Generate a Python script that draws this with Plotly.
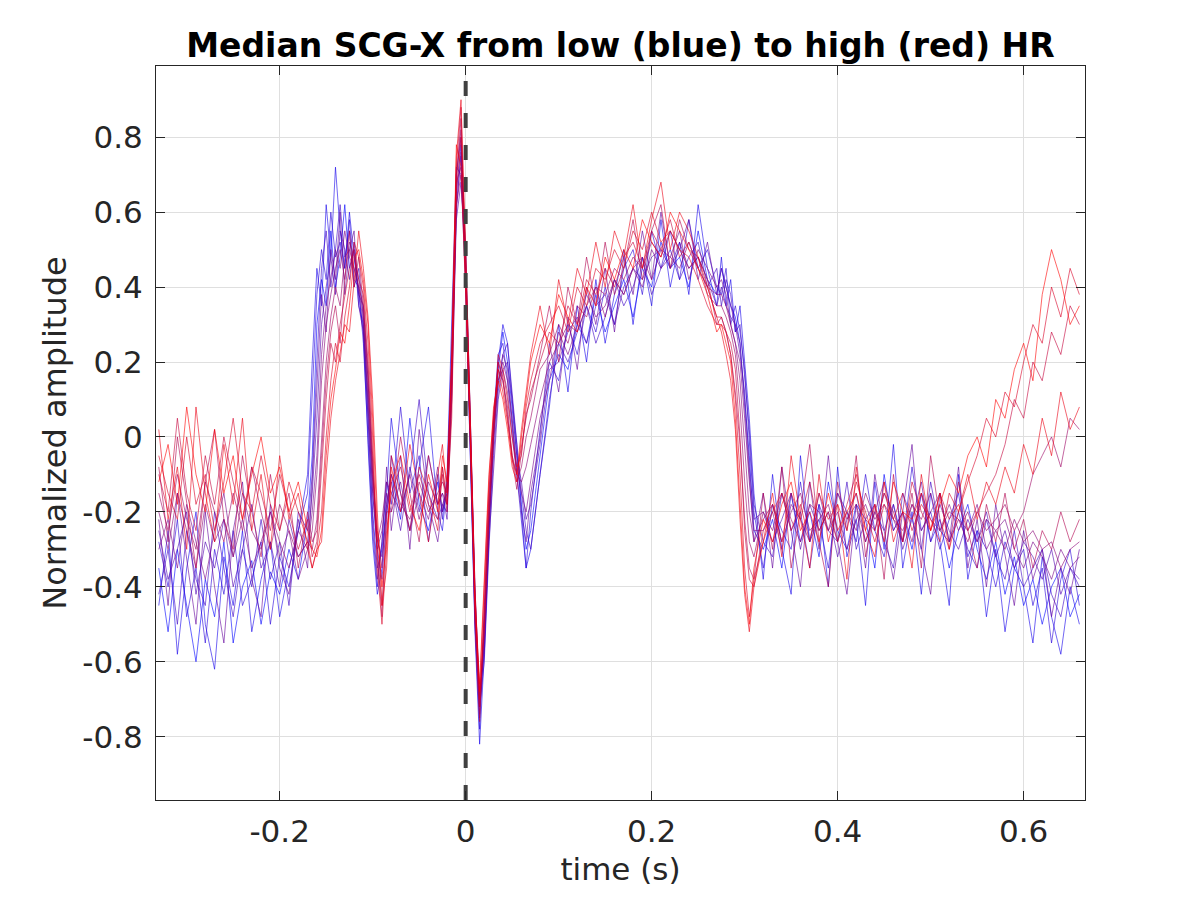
import plotly.graph_objects as go

# time grid (s)
time_s = (
    [-0.33, -0.32, -0.31, -0.30, -0.29, -0.28, -0.27, -0.26, -0.25, -0.24, -0.23, -0.22, -0.21, -0.20, -0.19, -0.18, -0.17]
    + [-0.165, -0.16, -0.155, -0.15, -0.145, -0.14, -0.135, -0.13, -0.125, -0.12, -0.115, -0.11, -0.105, -0.10, -0.095, -0.09, -0.085]
    + [-0.08, -0.07, -0.06, -0.05, -0.04, -0.03]
    + [-0.025, -0.02, -0.015, -0.01, -0.005, 0.0, 0.005, 0.01, 0.015, 0.02, 0.025, 0.03, 0.035, 0.04, 0.045, 0.05, 0.055, 0.06, 0.065, 0.07]
    + [0.08, 0.09, 0.10, 0.11, 0.12, 0.13, 0.14, 0.15, 0.16, 0.17, 0.18, 0.19, 0.20, 0.21, 0.22, 0.23, 0.24, 0.25, 0.26, 0.27]
    + [0.275, 0.28, 0.285, 0.29, 0.295, 0.30, 0.305, 0.31]
    + [0.32, 0.33, 0.34, 0.35, 0.36, 0.37, 0.38, 0.39, 0.40, 0.41, 0.42, 0.43, 0.44, 0.45, 0.46, 0.47, 0.48, 0.49, 0.50,
       0.51, 0.52, 0.53, 0.54, 0.55, 0.56, 0.57, 0.58, 0.59, 0.60, 0.61, 0.62, 0.63, 0.64, 0.65, 0.66]
)

# median SCG-X beats, ordered from low HR (blue) to high HR (red)
hr00 = ([-0.35, -0.52, -0.30, -0.45, -0.60, -0.38, -0.48, -0.28, -0.55, -0.40, -0.33, -0.50, -0.36, -0.42, -0.30, -0.38, -0.22]
        + [-0.05, 0.30, 0.42, 0.35, 0.55, 0.40, 0.48, 0.62, 0.45, 0.50, 0.35, 0.30, 0.05, -0.20, -0.35, -0.30, -0.18]
        + [-0.10, -0.22, 0.05, -0.18, -0.25, -0.12]
        + [-0.20, -0.15, 0.20, 0.65, 0.78, 0.45, 0.00, -0.45, -0.70, -0.55, -0.25, 0.00, 0.18, 0.28, 0.20, 0.08, -0.05, -0.18, -0.30, -0.25]
        + [-0.05, 0.15, 0.22, 0.18, 0.30, 0.25, 0.38, 0.28, 0.35, 0.42, 0.32, 0.45, 0.40, 0.52, 0.45, 0.48, 0.40, 0.55, 0.42, 0.38]
        + [0.45, 0.40, 0.35, 0.32, 0.25, 0.10, -0.05, -0.25]
        + [-0.30, -0.22, -0.35, -0.15, -0.28, -0.20, -0.32, -0.12, -0.25, -0.30, -0.18, -0.22, -0.35, -0.10, -0.25, -0.20, -0.30, -0.15,
           -0.28, -0.22, -0.35, -0.25, -0.18, -0.30, -0.38, -0.28, -0.42, -0.32, -0.45, -0.38, -0.50, -0.40, -0.35, -0.48, -0.42])
hr01 = ([-0.45, -0.25, -0.58, -0.35, -0.20, -0.50, -0.62, -0.32, -0.45, -0.25, -0.52, -0.38, -0.28, -0.48, -0.35, -0.25, -0.10]
        + [0.20, 0.45, 0.35, 0.62, 0.48, 0.72, 0.55, 0.45, 0.60, 0.48, 0.38, 0.28, -0.02, -0.28, -0.42, -0.35, -0.15]
        + [0.05, -0.15, -0.25, -0.08, 0.08, -0.20]
        + [-0.25, -0.12, 0.25, 0.70, 0.80, 0.42, -0.02, -0.52, -0.82, -0.58, -0.25, 0.02, 0.20, 0.30, 0.25, 0.10, -0.02, -0.20, -0.35, -0.30]
        + [-0.10, 0.08, 0.30, 0.12, 0.35, 0.20, 0.42, 0.25, 0.38, 0.50, 0.30, 0.48, 0.35, 0.58, 0.40, 0.52, 0.38, 0.62, 0.45, 0.35]
        + [0.48, 0.35, 0.42, 0.28, 0.35, 0.20, 0.05, -0.15]
        + [-0.38, -0.10, -0.30, -0.42, -0.05, -0.28, -0.18, -0.40, -0.08, -0.32, -0.22, -0.45, -0.12, -0.30, -0.02, -0.35, -0.20, -0.42,
           -0.15, -0.28, -0.45, -0.10, -0.38, -0.25, -0.48, -0.30, -0.52, -0.35, -0.40, -0.55, -0.32, -0.48, -0.58, -0.40, -0.50])
hr02 = ([-0.28, -0.40, -0.22, -0.48, -0.35, -0.55, -0.30, -0.42, -0.25, -0.45, -0.38, -0.28, -0.50, -0.32, -0.40, -0.25, -0.15]
        + [0.10, 0.38, 0.50, 0.42, 0.60, 0.48, 0.52, 0.45, 0.58, 0.42, 0.40, 0.25, 0.00, -0.25, -0.40, -0.28, -0.12]
        + [-0.18, 0.08, -0.15, -0.05, -0.28, -0.10]
        + [-0.22, -0.10, 0.28, 0.72, 0.70, 0.40, -0.05, -0.50, -0.78, -0.50, -0.20, 0.05, 0.22, 0.25, 0.15, 0.02, -0.10, -0.22, -0.35, -0.20]
        + [0.02, 0.20, 0.15, 0.30, 0.22, 0.35, 0.28, 0.40, 0.30, 0.45, 0.50, 0.38, 0.55, 0.45, 0.50, 0.42, 0.58, 0.45, 0.50, 0.40]
        + [0.38, 0.45, 0.30, 0.35, 0.28, 0.18, 0.00, -0.20]
        + [-0.35, -0.18, -0.25, -0.30, -0.12, -0.28, -0.22, -0.35, -0.15, -0.20, -0.28, -0.10, -0.25, -0.32, -0.18, -0.28, -0.08, -0.25,
           -0.20, -0.30, -0.22, -0.15, -0.32, -0.25, -0.30, -0.40, -0.28, -0.35, -0.30, -0.45, -0.35, -0.55, -0.38, -0.30, -0.45])
hr03 = ([-0.42, -0.30, -0.50, -0.25, -0.38, -0.45, -0.20, -0.35, -0.48, -0.30, -0.40, -0.22, -0.38, -0.28, -0.45, -0.20, -0.25]
        + [-0.10, 0.20, 0.45, 0.55, 0.40, 0.50, 0.62, 0.48, 0.55, 0.40, 0.45, 0.32, 0.10, -0.15, -0.30, -0.38, -0.22]
        + [-0.05, -0.20, -0.10, 0.10, -0.15, -0.22]
        + [-0.18, -0.20, 0.15, 0.62, 0.75, 0.50, 0.05, -0.40, -0.72, -0.60, -0.30, -0.05, 0.12, 0.22, 0.25, 0.12, -0.02, -0.15, -0.25, -0.30]
        + [-0.10, 0.10, 0.25, 0.20, 0.28, 0.35, 0.25, 0.32, 0.42, 0.35, 0.40, 0.48, 0.38, 0.45, 0.55, 0.42, 0.48, 0.52, 0.40, 0.45]
        + [0.35, 0.42, 0.38, 0.28, 0.30, 0.15, 0.02, -0.18]
        + [-0.28, -0.32, -0.15, -0.25, -0.20, -0.35, -0.18, -0.25, -0.28, -0.12, -0.30, -0.22, -0.18, -0.28, -0.35, -0.15, -0.22, -0.30,
           -0.12, -0.25, -0.28, -0.20, -0.30, -0.35, -0.22, -0.32, -0.38, -0.25, -0.40, -0.35, -0.30, -0.42, -0.48, -0.35, -0.40])
hr04 = ([-0.25, -0.38, -0.30, -0.20, -0.42, -0.28, -0.35, -0.22, -0.40, -0.30, -0.18, -0.35, -0.28, -0.40, -0.22, -0.32, -0.28]
        + [-0.15, 0.05, 0.30, 0.40, 0.48, 0.38, 0.55, 0.50, 0.42, 0.52, 0.38, 0.35, 0.15, -0.10, -0.28, -0.32, -0.20]
        + [-0.12, -0.25, -0.08, -0.20, -0.05, -0.18]
        + [-0.15, -0.22, 0.10, 0.58, 0.68, 0.48, 0.02, -0.42, -0.68, -0.58, -0.28, -0.08, 0.10, 0.18, 0.20, 0.10, -0.05, -0.12, -0.22, -0.18]
        + [-0.02, 0.18, 0.20, 0.28, 0.32, 0.25, 0.35, 0.38, 0.30, 0.40, 0.45, 0.42, 0.48, 0.50, 0.45, 0.52, 0.45, 0.48, 0.42, 0.35]
        + [0.40, 0.35, 0.32, 0.30, 0.22, 0.12, -0.08, -0.22]
        + [-0.20, -0.28, -0.22, -0.15, -0.30, -0.18, -0.25, -0.20, -0.32, -0.22, -0.15, -0.28, -0.20, -0.25, -0.18, -0.30, -0.22, -0.12,
           -0.28, -0.18, -0.25, -0.30, -0.22, -0.28, -0.20, -0.32, -0.25, -0.35, -0.28, -0.32, -0.38, -0.30, -0.42, -0.35, -0.38])
hr05 = ([-0.22, -0.45, -0.15, -0.32, -0.50, -0.20, -0.40, -0.55, -0.25, -0.12, -0.38, -0.48, -0.18, -0.35, -0.42, -0.22, -0.35]
        + [-0.12, 0.12, 0.38, 0.28, 0.50, 0.42, 0.60, 0.38, 0.50, 0.55, 0.35, 0.28, 0.05, -0.22, -0.38, -0.28, -0.08]
        + [-0.25, -0.05, -0.30, 0.02, -0.18, -0.28]
        + [-0.18, -0.15, 0.18, 0.60, 0.76, 0.48, 0.02, -0.44, -0.74, -0.55, -0.25, -0.02, 0.15, 0.22, 0.18, 0.05, -0.10, -0.20, -0.28, -0.15]
        + [0.00, 0.25, 0.12, 0.32, 0.18, 0.40, 0.30, 0.45, 0.28, 0.48, 0.38, 0.55, 0.42, 0.60, 0.45, 0.50, 0.58, 0.42, 0.52, 0.38]
        + [0.45, 0.40, 0.35, 0.30, 0.25, 0.08, -0.10, -0.28]
        + [-0.15, -0.35, -0.08, -0.25, -0.40, -0.12, -0.30, -0.05, -0.28, -0.42, -0.18, -0.35, -0.10, -0.25, -0.38, -0.20, -0.02, -0.30,
           -0.42, -0.15, -0.28, -0.08, -0.35, -0.22, -0.40, -0.18, -0.32, -0.45, -0.25, -0.38, -0.30, -0.48, -0.35, -0.42, -0.30])
hr06 = ([-0.30, -0.22, -0.35, -0.18, -0.28, -0.38, -0.25, -0.15, -0.32, -0.22, -0.35, -0.28, -0.20, -0.32, -0.25, -0.38, -0.30]
        + [-0.20, -0.05, 0.22, 0.35, 0.42, 0.50, 0.45, 0.55, 0.48, 0.45, 0.40, 0.30, 0.10, -0.15, -0.30, -0.25, -0.15]
        + [-0.20, -0.12, -0.25, -0.15, -0.22, -0.08]
        + [-0.20, -0.12, 0.20, 0.68, 0.72, 0.42, 0.00, -0.48, -0.72, -0.52, -0.22, 0.00, 0.15, 0.20, 0.15, 0.05, -0.08, -0.15, -0.20, -0.12]
        + [0.05, 0.15, 0.28, 0.22, 0.30, 0.38, 0.32, 0.35, 0.42, 0.38, 0.45, 0.40, 0.50, 0.45, 0.48, 0.55, 0.42, 0.50, 0.45, 0.40]
        + [0.42, 0.38, 0.30, 0.25, 0.20, 0.05, -0.12, -0.25]
        + [-0.25, -0.20, -0.30, -0.18, -0.22, -0.28, -0.15, -0.25, -0.20, -0.30, -0.22, -0.18, -0.25, -0.15, -0.22, -0.28, -0.18, -0.25,
           -0.20, -0.15, -0.28, -0.22, -0.25, -0.18, -0.30, -0.25, -0.22, -0.30, -0.35, -0.28, -0.32, -0.38, -0.30, -0.35, -0.32])
hr07 = ([-0.20, -0.30, -0.15, -0.25, -0.35, -0.18, -0.28, -0.22, -0.32, -0.15, -0.25, -0.30, -0.20, -0.28, -0.35, -0.25, -0.30]
        + [-0.25, -0.10, 0.15, 0.30, 0.38, 0.45, 0.50, 0.42, 0.52, 0.48, 0.42, 0.32, 0.12, -0.12, -0.28, -0.22, -0.12]
        + [-0.15, -0.20, -0.10, -0.22, -0.12, -0.18]
        + [-0.15, -0.18, 0.12, 0.62, 0.70, 0.45, 0.05, -0.45, -0.70, -0.50, -0.20, 0.02, 0.15, 0.18, 0.12, 0.00, -0.10, -0.12, -0.08, -0.02]
        + [0.10, 0.20, 0.25, 0.30, 0.28, 0.35, 0.40, 0.32, 0.42, 0.38, 0.45, 0.48, 0.42, 0.50, 0.48, 0.45, 0.52, 0.45, 0.40, 0.38]
        + [0.38, 0.35, 0.30, 0.25, 0.15, -0.02, -0.20, -0.28]
        + [-0.22, -0.18, -0.28, -0.20, -0.15, -0.25, -0.22, -0.18, -0.28, -0.20, -0.25, -0.15, -0.22, -0.18, -0.25, -0.20, -0.28, -0.15,
           -0.22, -0.25, -0.18, -0.25, -0.20, -0.28, -0.22, -0.25, -0.30, -0.22, -0.28, -0.25, -0.30, -0.28, -0.35, -0.30, -0.28])
hr08 = ([-0.15, -0.25, -0.10, -0.22, -0.30, -0.12, -0.20, -0.28, -0.15, -0.25, -0.08, -0.20, -0.30, -0.18, -0.25, -0.32, -0.28]
        + [-0.30, -0.22, 0.00, 0.20, 0.32, 0.40, 0.35, 0.48, 0.50, 0.45, 0.40, 0.35, 0.15, -0.10, -0.25, -0.35, -0.18]
        + [-0.10, -0.18, -0.22, -0.12, -0.20, -0.15]
        + [-0.12, -0.15, 0.18, 0.70, 0.82, 0.40, 0.00, -0.50, -0.75, -0.45, -0.15, 0.05, 0.18, 0.15, 0.08, -0.05, -0.12, -0.08, 0.00, 0.05]
        + [0.18, 0.22, 0.30, 0.25, 0.35, 0.32, 0.40, 0.38, 0.45, 0.42, 0.48, 0.45, 0.52, 0.48, 0.55, 0.50, 0.45, 0.48, 0.38, 0.35]
        + [0.35, 0.32, 0.28, 0.22, 0.08, -0.12, -0.28, -0.32]
        + [-0.20, -0.25, -0.15, -0.22, -0.28, -0.18, -0.20, -0.25, -0.15, -0.22, -0.18, -0.28, -0.20, -0.12, -0.22, -0.25, -0.18, -0.22,
           -0.15, -0.25, -0.20, -0.22, -0.28, -0.20, -0.25, -0.22, -0.18, -0.25, -0.20, -0.10, -0.05, 0.00, -0.08, 0.05, 0.02])
hr09 = ([-0.08, -0.28, 0.00, -0.18, -0.35, -0.12, 0.02, -0.22, -0.30, -0.05, -0.20, -0.32, -0.10, -0.25, -0.15, -0.35, -0.20]
        + [-0.28, -0.25, -0.05, 0.15, 0.28, 0.35, 0.25, 0.42, 0.55, 0.40, 0.48, 0.35, 0.18, -0.08, -0.32, -0.48, -0.20]
        + [-0.20, 0.00, -0.15, -0.28, -0.05, -0.18]
        + [-0.08, -0.18, 0.15, 0.68, 0.85, 0.45, 0.00, -0.48, -0.76, -0.46, -0.16, 0.04, 0.20, 0.16, 0.06, -0.06, -0.14, -0.04, 0.06, 0.10]
        + [0.22, 0.35, 0.20, 0.40, 0.30, 0.48, 0.35, 0.52, 0.38, 0.45, 0.58, 0.42, 0.55, 0.62, 0.45, 0.58, 0.50, 0.48, 0.42, 0.30]
        + [0.32, 0.28, 0.22, 0.12, -0.02, -0.22, -0.35, -0.38]
        + [-0.15, -0.30, -0.08, -0.35, -0.20, -0.02, -0.28, -0.40, -0.12, -0.25, -0.05, -0.32, -0.18, -0.38, -0.10, -0.28, -0.15, -0.35,
           -0.05, -0.22, -0.30, -0.12, -0.25, -0.35, -0.18, -0.28, -0.15, -0.30, -0.22, -0.35, -0.25, -0.30, -0.20, -0.28, -0.22])
hr10 = ([-0.10, -0.20, 0.05, -0.15, -0.25, -0.05, -0.18, 0.00, -0.12, -0.22, -0.08, -0.15, -0.25, -0.10, -0.20, -0.30, -0.22]
        + [-0.32, -0.28, -0.10, 0.10, 0.25, 0.20, 0.30, 0.38, 0.45, 0.50, 0.42, 0.38, 0.20, -0.05, -0.30, -0.45, -0.25]
        + [-0.15, -0.08, -0.20, -0.10, -0.18, -0.22]
        + [-0.10, -0.20, 0.10, 0.72, 0.88, 0.48, 0.02, -0.42, -0.72, -0.48, -0.18, 0.02, 0.20, 0.15, 0.05, -0.05, -0.10, -0.02, 0.05, 0.12]
        + [0.20, 0.28, 0.25, 0.35, 0.30, 0.42, 0.38, 0.45, 0.40, 0.48, 0.52, 0.45, 0.55, 0.50, 0.58, 0.48, 0.52, 0.45, 0.40, 0.32]
        + [0.32, 0.28, 0.25, 0.18, 0.00, -0.25, -0.38, -0.40]
        + [-0.25, -0.18, -0.28, -0.15, -0.22, -0.12, -0.25, -0.20, -0.28, -0.18, -0.10, -0.22, -0.25, -0.15, -0.20, -0.28, -0.12, -0.20,
           -0.25, -0.15, -0.22, -0.18, -0.25, -0.20, -0.15, -0.10, -0.02, 0.10, 0.05, 0.20, 0.15, 0.28, 0.22, 0.35, 0.30])
hr11 = ([-0.05, -0.15, -0.22, 0.00, -0.18, -0.10, -0.25, -0.12, 0.05, -0.15, -0.20, -0.05, -0.18, -0.25, -0.12, -0.20, -0.28]
        + [-0.35, -0.30, -0.20, 0.00, 0.15, 0.25, 0.20, 0.32, 0.40, 0.52, 0.48, 0.40, 0.25, 0.00, -0.35, -0.50, -0.30]
        + [-0.05, -0.15, -0.25, -0.08, -0.15, -0.25]
        + [-0.08, -0.18, 0.05, 0.65, 0.80, 0.50, 0.05, -0.40, -0.70, -0.52, -0.22, 0.00, 0.22, 0.18, 0.10, 0.00, -0.08, -0.05, 0.08, 0.15]
        + [0.25, 0.30, 0.35, 0.28, 0.40, 0.35, 0.45, 0.42, 0.50, 0.45, 0.55, 0.50, 0.60, 0.52, 0.55, 0.50, 0.48, 0.42, 0.35, 0.30]
        + [0.30, 0.28, 0.22, 0.10, -0.10, -0.35, -0.48, -0.38]
        + [-0.28, -0.20, -0.15, -0.25, -0.18, -0.28, -0.15, -0.22, -0.18, -0.25, -0.12, -0.20, -0.28, -0.18, -0.22, -0.15, -0.25, -0.18,
           -0.22, -0.28, -0.15, -0.20, -0.12, -0.05, 0.05, 0.00, 0.12, 0.08, 0.20, 0.30, 0.25, 0.40, 0.32, 0.45, 0.38])
hr12 = ([0.02, -0.22, -0.08, -0.30, 0.08, -0.15, -0.28, -0.02, -0.18, 0.05, -0.25, -0.10, -0.30, -0.05, -0.22, -0.15, -0.30]
        + [-0.35, -0.30, -0.28, -0.10, 0.05, 0.15, 0.22, 0.30, 0.28, 0.42, 0.55, 0.45, 0.32, 0.10, -0.20, -0.45, -0.35]
        + [-0.08, -0.20, -0.02, -0.15, -0.28, -0.10]
        + [-0.02, -0.15, 0.20, 0.75, 0.90, 0.50, 0.02, -0.42, -0.66, -0.40, -0.10, 0.06, 0.18, 0.12, 0.04, -0.06, -0.10, 0.02, 0.12, 0.22]
        + [0.35, 0.22, 0.42, 0.30, 0.45, 0.38, 0.52, 0.40, 0.55, 0.48, 0.62, 0.45, 0.58, 0.68, 0.50, 0.60, 0.55, 0.48, 0.40, 0.32]
        + [0.28, 0.22, 0.15, 0.02, -0.22, -0.42, -0.52, -0.40]
        + [-0.28, -0.15, -0.32, -0.05, -0.22, -0.35, -0.10, -0.28, -0.18, -0.38, -0.08, -0.25, -0.32, -0.12, -0.28, -0.20, -0.35, -0.10,
           -0.25, -0.15, -0.30, -0.20, -0.10, -0.22, -0.12, -0.18, -0.08, -0.15, -0.02, -0.10, 0.05, -0.05, 0.12, 0.02, 0.08])
hr13 = ([-0.12, -0.02, -0.18, 0.08, -0.10, -0.20, 0.02, -0.15, -0.05, -0.22, -0.10, 0.00, -0.15, -0.08, -0.20, -0.12, -0.25]
        + [-0.30, -0.32, -0.25, -0.05, 0.10, 0.18, 0.28, 0.25, 0.35, 0.48, 0.50, 0.42, 0.30, 0.05, -0.25, -0.40, -0.28]
        + [-0.12, -0.05, -0.18, -0.25, -0.10, -0.20]
        + [-0.05, -0.12, 0.22, 0.78, 0.72, 0.38, -0.02, -0.45, -0.68, -0.42, -0.12, 0.08, 0.15, 0.10, 0.02, -0.08, -0.12, 0.00, 0.10, 0.20]
        + [0.30, 0.25, 0.38, 0.32, 0.28, 0.40, 0.35, 0.48, 0.42, 0.50, 0.45, 0.58, 0.52, 0.48, 0.60, 0.55, 0.50, 0.45, 0.38, 0.28]
        + [0.30, 0.25, 0.20, 0.05, -0.18, -0.40, -0.50, -0.35]
        + [-0.22, -0.28, -0.18, -0.12, -0.25, -0.20, -0.28, -0.15, -0.25, -0.20, -0.15, -0.25, -0.18, -0.28, -0.12, -0.20, -0.22, -0.15,
           -0.25, -0.18, -0.10, -0.15, -0.05, 0.00, -0.08, 0.10, 0.05, 0.18, 0.25, 0.15, 0.38, 0.50, 0.42, 0.30, 0.35])

beats = [hr00, hr01, hr02, hr03, hr04, hr05, hr06, hr07, hr08, hr09, hr10, hr11, hr12, hr13]

x_ticks = [-0.2, 0, 0.2, 0.4, 0.6]
x_tick_text = ["-0.2", "0", "0.2", "0.4", "0.6"]
y_ticks = [-0.8, -0.6, -0.4, -0.2, 0, 0.2, 0.4, 0.6, 0.8]
y_tick_text = ["-0.8", "-0.6", "-0.4", "-0.2", "0", "0.2", "0.4", "0.6", "0.8"]
x_range = [-0.333, 0.666]
y_range = [-0.969, 0.99]

for i, b in enumerate(beats):
    assert len(b) == len(time_s), (i, len(b), len(time_s))

fig = go.Figure()
n = len(beats)
for i, b in enumerate(beats):
    f = i / (n - 1)
    col = f"rgba({round(255 * f)},0,{round(255 * (1 - f))},0.6)"
    fig.add_trace(go.Scatter(x=time_s, y=b, mode="lines",
                             line=dict(color=col, width=1), showlegend=False, hoverinfo="skip"))

fig.add_trace(go.Scatter(x=[0, 0], y=y_range, mode="lines",
                         line=dict(color="#404040", width=4, dash="15px,17px"),
                         showlegend=False, hoverinfo="skip"))

FONT = "DejaVu Sans"
axis_common = dict(
    showline=True, linecolor="#262626", linewidth=1, mirror="ticks",
    ticks="inside", ticklen=9, tickcolor="#262626",
    showgrid=True, gridcolor="#dfdfdf", gridwidth=1, zeroline=False,
    tickfont=dict(family=FONT, size=31, color="#262626"),
)

fig.update_layout(
    width=1200, height=900,
    margin=dict(l=156, r=115, t=66, b=100),
    paper_bgcolor="white", plot_bgcolor="white",
    title=dict(text="<b>Median SCG-X from low (blue) to high (red) HR</b>",
               x=0.517, xanchor="center", y=0.95, yanchor="middle",
               font=dict(family=FONT, size=33, color="black")),
    xaxis=dict(range=x_range, tickvals=x_ticks, ticktext=x_tick_text, ticklabelstandoff=4,
               title=dict(text="time (s)", standoff=10,
                          font=dict(family=FONT, size=31, color="#262626")),
               **axis_common),
    yaxis=dict(range=y_range, tickvals=y_ticks, ticktext=y_tick_text, ticklabelstandoff=6,
               title=dict(text="Normalized amplitude", standoff=6,
                          font=dict(family=FONT, size=32, color="#262626")),
               **axis_common),
)

fig.write_html("out.html")
